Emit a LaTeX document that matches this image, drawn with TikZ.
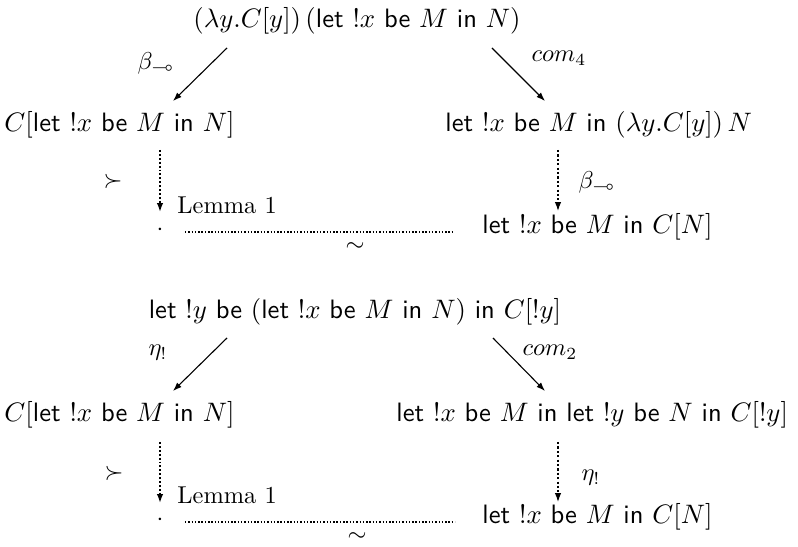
\documentclass[tikz,border=0pt]{standalone}
\usepackage{amssymb}
\usetikzlibrary{arrows.meta}
\newcommand{\kw}[1]{\textsf{#1}}
\newcommand{\termfont}{\fontsize{10.9}{13}\selectfont}
\tikzset{
  term/.style={inner sep=0pt, anchor=base west, font=\termfont},
  termc/.style={inner sep=0pt, anchor=base, font=\termfont},
  lbl/.style={inner sep=0pt},
  redline/.style={line width=0.45pt, -{Latex[length=3.6pt,width=2.6pt]}},
  lemarr/.style={line width=0.95pt, dash pattern=on 0.8pt off 0.8pt, -{Latex[length=3.6pt,width=2.6pt]}},
  redarr/.style={line width=0.5pt, dash pattern=on 0.9pt off 0.9pt, -{Latex[length=3.6pt,width=2.6pt]}},
  simline/.style={line width=0.6pt, dash pattern=on 0.6pt off 0.75pt},
}
\begin{document}
\begin{tikzpicture}[x=0.41pt,y=-0.41pt]
\useasboundingbox (0,0) rectangle (798,547);
% ---------- upper diagram ----------
\node[termc] (a0) at (357,28) {$(\lambda y.C[y])\,(\kw{let}\ !x\ \kw{be}\ M\ \kw{in}\ N)$};
\node[term] (a1) at (4,132) {$C[\kw{let}\ !x\ \kw{be}\ M\ \kw{in}\ N]$};
\node[term] (a2) at (445,132) {$\kw{let}\ !x\ \kw{be}\ M\ \kw{in}\ (\lambda y.C[y])\,N$};
\node[term] (a3) at (482,234) {$\kw{let}\ !x\ \kw{be}\ M\ \kw{in}\ C[N]$};
\node[lbl] (a4) at (160,230) {$\cdot$};
\node[lbl] (al1) at (156,63) {$\beta_{\multimap}$};
\node[lbl] (al2) at (559,58) {$com_4$};
\node[lbl] (al3) at (597,182) {$\beta_{\multimap}$};
\node[lbl] (al4) at (113,181) {$\succ$};
\node[term, font=\normalsize] (al5) at (177,214) {Lemma 1};
\node[lbl] (al6) at (355,247) {$\sim$};
\coordinate (a0l) at (227,48);
\coordinate (a1t) at (173,101);
\coordinate (a0r) at (492,48);
\coordinate (a2t) at (545,101);
\coordinate (a1b) at (160,150);
\coordinate (a4t) at (160,212);
\coordinate (a2b) at (558,150);
\coordinate (a3t) at (558,211);
\coordinate (a4r) at (185,232);
\coordinate (a3l) at (454,232);
\draw[redline] (a0l) -- (a1t);
\draw[redline] (a0r) -- (a2t);
\draw[lemarr] (a1b) -- (a4t);
\draw[redarr] (a2b) -- (a3t);
\draw[simline] (a4r) -- (a3l);
% ---------- lower diagram ----------
\node[termc] (b0) at (355,319) {$\kw{let}\ !y\ \kw{be}\ (\kw{let}\ !x\ \kw{be}\ M\ \kw{in}\ N)\ \kw{in}\ C[!y]$};
\node[term] (b1) at (4,422) {$C[\kw{let}\ !x\ \kw{be}\ M\ \kw{in}\ N]$};
\node[term] (b2) at (396,422) {$\kw{let}\ !x\ \kw{be}\ M\ \kw{in}\ \kw{let}\ !y\ \kw{be}\ N\ \kw{in}\ C[!y]$};
\node[term] (b3) at (482,524) {$\kw{let}\ !x\ \kw{be}\ M\ \kw{in}\ C[N]$};
\node[lbl] (b4) at (160,520) {$\cdot$};
\node[lbl] (bl1) at (158,353) {$\eta_!$};
\node[lbl] (bl2) at (550,352) {$com_2$};
\node[lbl] (bl3) at (591,478) {$\eta_!$};
\node[lbl] (bl4) at (114,473) {$\succ$};
\node[term, font=\normalsize] (bl5) at (177,504) {Lemma 1};
\node[lbl] (bl6) at (357,537) {$\sim$};
\coordinate (b0l) at (227,338);
\coordinate (b1t) at (173,391);
\coordinate (b0r) at (493,338);
\coordinate (b2t) at (545,391);
\coordinate (b1b) at (160,442);
\coordinate (b4t) at (160,503);
\coordinate (b2b) at (558,442);
\coordinate (b3t) at (558,502);
\coordinate (b4r) at (185,522);
\coordinate (b3l) at (455,522);
\draw[redline] (b0l) -- (b1t);
\draw[redline] (b0r) -- (b2t);
\draw[lemarr] (b1b) -- (b4t);
\draw[redarr] (b2b) -- (b3t);
\draw[simline] (b4r) -- (b3l);
\end{tikzpicture}
\end{document}
